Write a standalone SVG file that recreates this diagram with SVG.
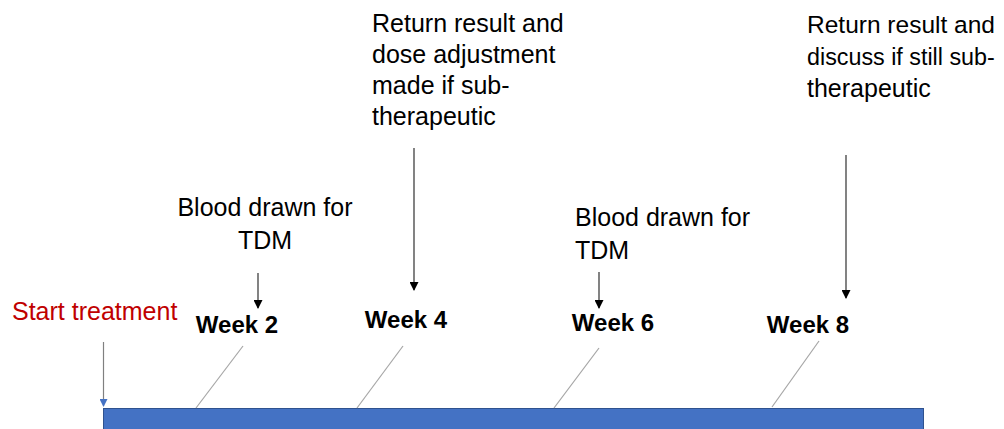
<svg xmlns="http://www.w3.org/2000/svg" width="1004" height="429" viewBox="0 0 1004 429">
<style>
text{font-family:"Liberation Sans",Arial,sans-serif;font-size:25px;fill:#000}
.wk{font-weight:bold;font-size:24px;text-anchor:middle}
.red{fill:#C00000}
.mid{text-anchor:middle}
.arr{stroke:#404040;stroke-width:1.3;fill:none}
.diag{stroke:#A6A6A6;stroke-width:1.2;fill:none}
</style>
<defs>
<marker id="ah" markerWidth="9" markerHeight="9" refX="8" refY="4.5" orient="auto" markerUnits="userSpaceOnUse">
<path d="M0,0 L9,4.5 L0,9 z" fill="#000"/>
</marker>
<marker id="ahb" markerWidth="8" markerHeight="8" refX="7" refY="4" orient="auto" markerUnits="userSpaceOnUse">
<path d="M0,0 L8,4 L0,8 z" fill="#4472C4"/>
</marker>
</defs>
<rect width="1004" height="429" fill="#fff"/>
<g id="timeline">
<rect x="103.5" y="408.5" width="820" height="30" fill="#4472C4" stroke="#2F528F" stroke-width="1"/>
</g>
<g id="start">
<text class="red" x="12" y="320">Start treatment</text>
</g>
<g id="week2"><text class="wk" x="237" y="333">Week 2</text></g>
<g id="week4"><text class="wk" x="406" y="328">Week 4</text></g>
<g id="week6"><text class="wk" x="613" y="331">Week 6</text></g>
<g id="week8"><text class="wk" x="808" y="333">Week 8</text></g>
<g id="blood1">
<text class="mid" x="265" y="216">Blood drawn for</text>
<text class="mid" x="265" y="249">TDM</text>
</g>
<g id="blood2">
<text x="575" y="226">Blood drawn for</text>
<text x="575" y="259">TDM</text>
</g>
<g id="return1">
<text x="372" y="32">Return result and</text>
<text x="372" y="63">dose adjustment</text>
<text x="372" y="94">made if sub-</text>
<text x="372" y="125">therapeutic</text>
</g>
<g id="return2">
<text x="807" y="33" style="font-size:24.5px">Return result and</text>
<text x="807" y="65" style="font-size:23.3px">discuss if still sub-</text>
<text x="807" y="97">therapeutic</text>
</g>
<g id="connectors">
<line x1="103.5" y1="342" x2="103.5" y2="406" stroke="#808080" stroke-width="1.2" marker-end="url(#ahb)"/>
<line class="arr" x1="258" y1="273" x2="258" y2="308" marker-end="url(#ah)"/>
<line class="arr" x1="414" y1="148" x2="414" y2="290" marker-end="url(#ah)"/>
<line class="arr" x1="599" y1="272" x2="599" y2="308" marker-end="url(#ah)"/>
<line class="arr" x1="846" y1="155" x2="846" y2="298" marker-end="url(#ah)"/>
<line class="diag" x1="243" y1="346" x2="196" y2="408"/>
<line class="diag" x1="403" y1="346" x2="357" y2="408"/>
<line class="diag" x1="599" y1="348" x2="554" y2="408"/>
<line class="diag" x1="819" y1="341" x2="772" y2="407"/>
</g>
</svg>
